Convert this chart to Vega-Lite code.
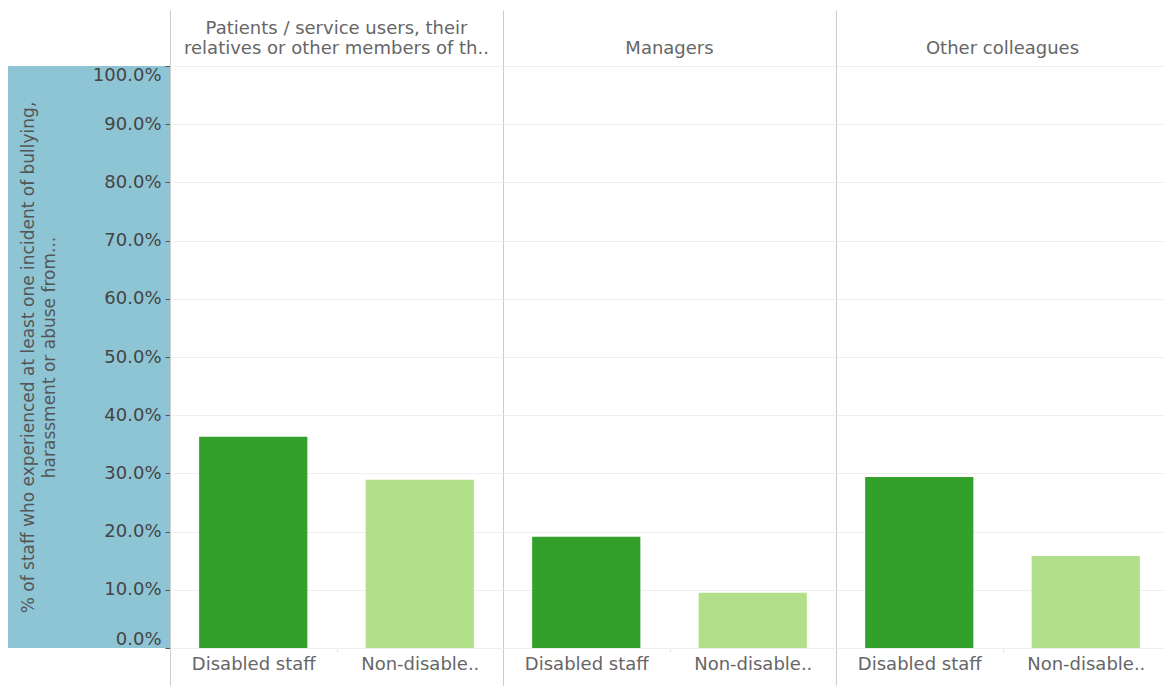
{
  "$schema": "https://vega.github.io/schema/vega-lite/v6.json",
  "padding": {"left": 8, "top": 9, "right": 0, "bottom": 0},
  "background": "white",
  "spacing": 0,
  "bounds": "flush",
  "config": {
    "font": "DejaVu Sans",
    "view": {"stroke": "#cccccc"}
  },
  "hconcat": [
    {
      "width": 162,
      "height": 582,
      "view": {"stroke": null},
      "data": {"values": [{}]},
      "mark": {"type": "rect", "color": "#8ec5d5"},
      "encoding": {
        "y": {
          "datum": 0,
          "type": "quantitative",
          "scale": {"domain": [0, 1], "nice": false},
          "axis": {
            "orient": "left",
            "offset": -162,
            "zindex": 2,
            "format": ".1%",
            "values": [0, 0.1, 0.2, 0.3, 0.4, 0.5, 0.6, 0.7, 0.8, 0.9, 1],
            "labelFlush": true,
            "labelFontSize": 18,
            "labelColor": "#444444",
            "labelPadding": 4,
            "tickColor": "#555555",
            "tickSize": 5,
            "domain": false,
            "grid": false,
            "title": ["% of staff who experienced at least one incident of bullying,", "harassment or abuse from..."],
            "titleFontSize": 17,
            "titleFontWeight": "normal",
            "titleColor": "#555555",
            "titleLineHeight": 21,
            "titlePadding": 34
          }
        },
        "y2": {"datum": 1}
      }
    },
    {
      "data": {
        "values": [
          {"group": "Patients / service users, their relatives or other members of the public", "status": "Disabled staff", "value": 0.363},
          {"group": "Patients / service users, their relatives or other members of the public", "status": "Non-disabled staff", "value": 0.289},
          {"group": "Managers", "status": "Disabled staff", "value": 0.191},
          {"group": "Managers", "status": "Non-disabled staff", "value": 0.095},
          {"group": "Other colleagues", "status": "Disabled staff", "value": 0.294},
          {"group": "Other colleagues", "status": "Non-disabled staff", "value": 0.158}
        ]
      },
      "spacing": 0,
      "bounds": "flush",
      "facet": {
        "column": {
          "field": "group",
          "type": "nominal",
          "sort": ["Patients / service users, their relatives or other members of the public", "Managers", "Other colleagues"],
          "title": null,
          "header": {
            "labelExpr": "datum.value == 'Patients / service users, their relatives or other members of the public' ? ['Patients / service users, their', 'relatives or other members of th..'] : datum.value",
            "labelFontSize": 18,
            "labelColor": "#666666",
            "labelLineHeight": 20,
            "labelPadding": -48
          }
        }
      },
      "spec": {
        "width": 333,
        "height": 582,
        "encoding": {
          "x": {
            "field": "status",
            "type": "nominal",
            "sort": ["Disabled staff", "Non-disabled staff"],
            "scale": {"paddingInner": 0.35, "paddingOuter": 0.175}
          },
          "y": {
            "field": "value",
            "type": "quantitative",
            "scale": {"domain": [0, 1], "nice": false}
          }
        },
        "layer": [
          {
            "mark": {"type": "bar"},
            "encoding": {
              "x": {
                "field": "status",
                "type": "nominal",
                "sort": ["Disabled staff", "Non-disabled staff"],
                "axis": {
                  "orient": "bottom",
                  "title": null,
                  "labelAngle": 0,
                  "labelExpr": "datum.value == 'Non-disabled staff' ? 'Non-disable..' : datum.value",
                  "labelFontSize": 18,
                  "labelColor": "#666666",
                  "labelPadding": {"condition": {"test": "datum.value === 'Disabled staff'", "value": -31}, "value": 3},
                  "domain": false,
                  "tickOffset": -83.25,
                  "labelOffset": 83.25,
                  "tickColor": {"condition": {"test": "datum.value === 'Disabled staff'", "value": "#cccccc"}, "value": "#e6e6e6"},
                  "tickSize": {"condition": {"test": "datum.value === 'Disabled staff'", "value": 38}, "value": 4}
                }
              },
              "y": {
                "field": "value",
                "type": "quantitative",
                "axis": {
                  "title": null,
                  "labels": false,
                  "ticks": false,
                  "domain": false,
                  "grid": true,
                  "gridColor": "#efefef",
                  "values": [0, 0.1, 0.2, 0.3, 0.4, 0.5, 0.6, 0.7, 0.8, 0.9, 1]
                }
              },
              "color": {
                "field": "status",
                "type": "nominal",
                "scale": {"domain": ["Disabled staff", "Non-disabled staff"], "range": ["#33a02c", "#b2df8a"]},
                "legend": null
              }
            }
          },
          {
            "mark": {"type": "bar", "opacity": 0},
            "encoding": {
              "x": {
                "field": "status",
                "type": "nominal",
                "sort": ["Disabled staff", "Non-disabled staff"],
                "axis": {
                  "orient": "top",
                  "title": null,
                  "labels": false,
                  "domain": false,
                  "tickOffset": -83.25,
                  "tickColor": "#cccccc",
                  "tickSize": {"condition": {"test": "datum.value === 'Disabled staff'", "value": 56}, "value": 0}
                }
              }
            }
          }
        ]
      }
    }
  ]
}
